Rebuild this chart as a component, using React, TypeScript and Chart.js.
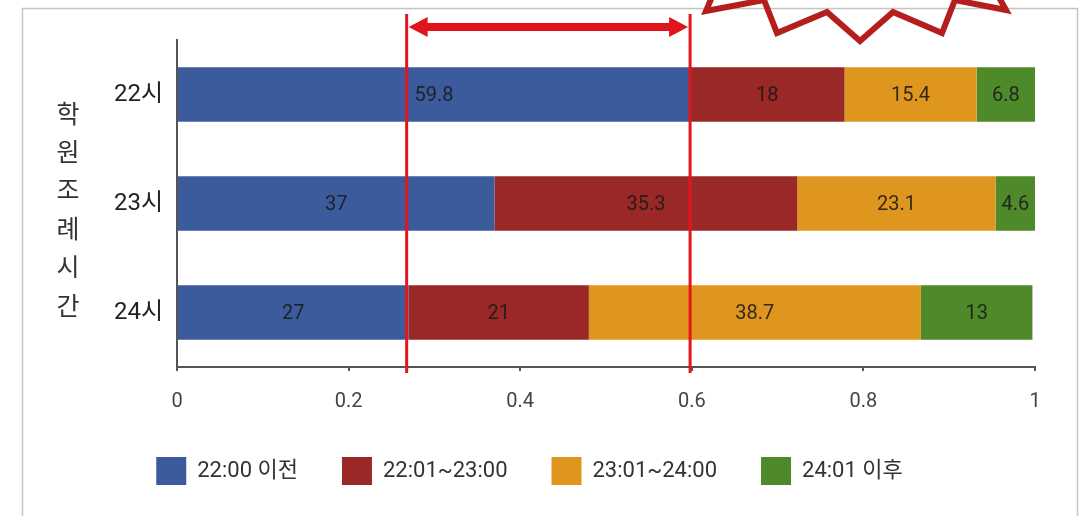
import React, { useEffect, useRef } from 'react';
import { Chart, registerables } from 'chart.js';

Chart.register(...registerables);

const categories = ['22시', '23시', '24시'];
const seriesNames = ['22:00 이전', '22:01~23:00', '23:01~24:00', '24:01 이후'];
const before2200 = [59.8, 37, 27];
const from2201to2300 = [18, 35.3, 21];
const from2301to2400 = [15.4, 23.1, 38.7];
const after2401 = [6.8, 4.6, 13];
const xTickLabels = ['0', '0.2', '0.4', '0.6', '0.8', '1'];
const yAxisTitle = '학원조례시간';
const seriesColors = ['#3c5b9c', '#992826', '#df961f', '#4e8a2a'];

const FONT = "Roboto, 'Noto Sans CJK KR', sans-serif";
const KFONT = "'Noto Sans CJK KR', sans-serif";

const framePlugin = {
  id: 'frame',
  beforeDraw(chart: any) {
    const ctx = chart.ctx;
    ctx.save();
    ctx.fillStyle = '#ffffff';
    ctx.fillRect(0, 0, chart.width, chart.height);
    ctx.strokeStyle = '#c4c4c4';
    ctx.lineWidth = 1.5;
    ctx.beginPath();
    ctx.moveTo(22.5, chart.height);
    ctx.lineTo(22.5, 8.5);
    ctx.lineTo(1077.5, 8.5);
    ctx.lineTo(1077.5, chart.height);
    ctx.stroke();
    ctx.restore();
  },
};

const dataLabelPlugin = {
  id: 'dataLabels',
  afterDatasetsDraw(chart: any) {
    const ctx = chart.ctx;
    ctx.save();
    ctx.font = `20px ${FONT}`;
    ctx.fillStyle = 'rgba(25,25,25,0.88)';
    ctx.textAlign = 'center';
    ctx.textBaseline = 'middle';
    chart.data.datasets.forEach((ds: any, di: number) => {
      const meta = chart.getDatasetMeta(di);
      meta.data.forEach((el: any, i: number) => {
        const raw = ds.rawValues[i];
        const cx = (el.x + el.base) / 2;
        ctx.fillText(String(raw), cx, el.y + 1);
      });
    });
    ctx.restore();
  },
};

const annotationPlugin = {
  id: 'annotations',
  afterDraw(chart: any) {
    const ctx = chart.ctx;
    const xs = chart.scales.x;
    const ca = chart.chartArea;
    ctx.save();
    // vertical axis title, characters stacked
    ctx.font = `25px ${KFONT}`;
    ctx.fillStyle = '#333333';
    ctx.textAlign = 'center';
    ctx.textBaseline = 'middle';
    const chars = Array.from(yAxisTitle);
    const step = 38.4;
    const cy = 209;
    chars.forEach((c, i) => {
      ctx.fillText(c, 68, cy + (i - (chars.length - 1) / 2) * step);
    });

    // bracket lines at the blue segment ends of 24시 and 22시
    const xl = xs.getPixelForValue(before2200[2] / 100) - 2;
    const xr = xs.getPixelForValue(before2200[0] / 100);
    ctx.strokeStyle = '#e3161c';
    ctx.lineWidth = 3;
    ctx.beginPath();
    ctx.moveTo(xl, 14);
    ctx.lineTo(xl, ca.bottom + 6);
    ctx.moveTo(xr, 14);
    ctx.lineTo(xr, ca.bottom + 6);
    ctx.stroke();

    // double arrow
    const ay = 27;
    const head = 19;
    const halfH = 10;
    const halfT = 4;
    ctx.fillStyle = '#e0141c';
    ctx.beginPath();
    ctx.moveTo(xl + 2, ay);
    ctx.lineTo(xl + 2 + head, ay - halfH);
    ctx.lineTo(xl + 2 + head, ay - halfT);
    ctx.lineTo(xr - 2 - head, ay - halfT);
    ctx.lineTo(xr - 2 - head, ay - halfH);
    ctx.lineTo(xr - 2, ay);
    ctx.lineTo(xr - 2 - head, ay + halfH);
    ctx.lineTo(xr - 2 - head, ay + halfT);
    ctx.lineTo(xl + 2 + head, ay + halfT);
    ctx.lineTo(xl + 2 + head, ay + halfH);
    ctx.closePath();
    ctx.fill();

    // decorative zigzag burst at the top
    ctx.strokeStyle = '#b41f1e';
    ctx.lineWidth = 6;
    ctx.lineJoin = 'miter';
    ctx.miterLimit = 10;
    ctx.beginPath();
    ctx.moveTo(714, -8);
    ctx.lineTo(706, 11);
    ctx.lineTo(764, 0);
    ctx.lineTo(777, 33);
    ctx.lineTo(827, 12);
    ctx.lineTo(860, 41);
    ctx.lineTo(893, 12);
    ctx.lineTo(942, 33);
    ctx.lineTo(955, 0);
    ctx.lineTo(1006, 10);
    ctx.lineTo(996, -8);
    ctx.stroke();
    ctx.restore();
  },
};

const seriesValues = [before2200, from2201to2300, from2301to2400, after2401];

export default function App() {
  const ref = useRef<HTMLCanvasElement | null>(null);
  useEffect(() => {
    if (!ref.current) return;
    const chart = new Chart(ref.current, {
      type: 'bar',
      data: {
        labels: categories,
        datasets: seriesNames.map((name, i) => ({
          label: name,
          data: seriesValues[i].map((v) => v / 100),
          rawValues: seriesValues[i],
          backgroundColor: seriesColors[i],
          borderWidth: 0,
          barPercentage: 0.5,
          categoryPercentage: 1,
        })) as any,
      },
      options: {
        indexAxis: 'y',
        responsive: false,
        animation: false,
        layout: { padding: { left: 24, right: 46, top: 40, bottom: 21 } },
        plugins: {
          legend: {
            position: 'bottom',
            labels: {
              boxWidth: 30,
              boxHeight: 28,
              padding: 44,
              color: '#333333',
              font: { size: 22, family: FONT },
            },
          },
          tooltip: { enabled: false },
        },
        scales: {
          x: {
            stacked: true,
            min: 0,
            max: 1,
            ticks: {
              stepSize: 0.2,
              color: '#444444',
              font: { size: 20, family: FONT },
              padding: 19,
              callback: (_v: any, i: number) => xTickLabels[i],
            },
            grid: {
              display: true,
              drawOnChartArea: false,
              drawTicks: true,
              tickLength: 4,
              color: '#555555',
              lineWidth: 2,
            },
            border: { display: true, color: '#555555', width: 2 },
            afterFit: (s: any) => {
              s.height = 46;
            },
          },
          y: {
            stacked: true,
            ticks: {
              color: '#222222',
              font: { size: 24, family: FONT },
              padding: 14,
            },
            grid: { display: false, drawTicks: false },
            border: { display: true, color: '#555555', width: 2 },
            afterFit: (s: any) => {
              s.width = 153;
            },
          },
        },
      } as any,
      plugins: [framePlugin, dataLabelPlugin, annotationPlugin],
    });
    return () => chart.destroy();
  }, []);
  return (
    <div style={{ position: 'absolute', left: 0, top: 0, width: 1081, height: 516, background: '#fff' }}>
      <canvas ref={ref} width={1081} height={516} style={{ display: 'block' }} />
    </div>
  );
}
